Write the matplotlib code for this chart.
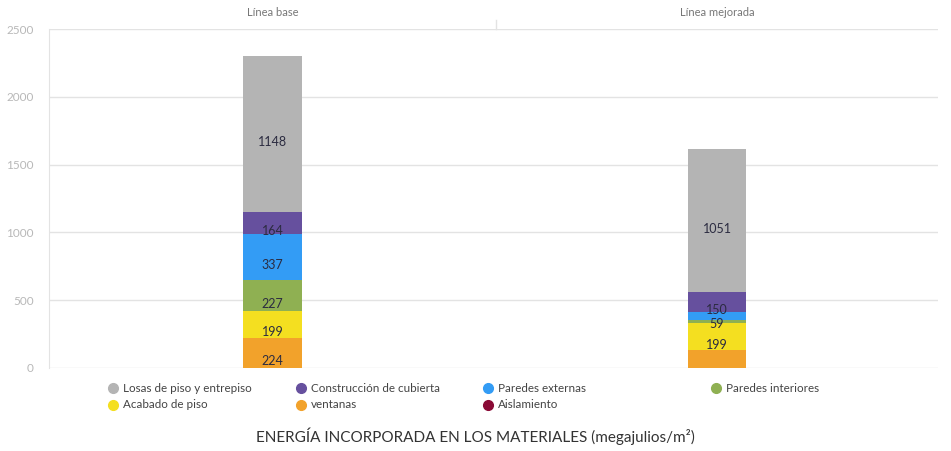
import matplotlib.pyplot as plt
from matplotlib.lines import Line2D

plt.rcParams['font.family'] = ['Lato', 'DejaVu Sans']

# data
escenarios = ['Línea base', 'Línea mejorada']
componentes = ['ventanas', 'Acabado de piso', 'Paredes interiores', 'Paredes externas',
               'Construcción de cubierta', 'Losas de piso y entrepiso', 'Aislamiento']
linea_base = [224, 199, 227, 337, 164, 1148, 0]
linea_mejorada = [130, 199, 25, 59, 150, 1051, 0]
colores = ['#f2a22b', '#f4df20', '#8fb052', '#339cf5', '#66509e', '#b4b4b4', '#8a0a36']
legend_orden = ['Losas de piso y entrepiso', 'Construcción de cubierta', 'Paredes externas',
                'Paredes interiores', 'Acabado de piso', 'ventanas', 'Aislamiento']
yticks = [0, 500, 1000, 1500, 2000, 2500]
# labels the reference leaves out
ocultos = {('Línea mejorada', 'ventanas'), ('Línea mejorada', 'Paredes interiores')}

W, H = 951, 451
fig = plt.figure(figsize=(W / 100, H / 100), dpi=100)
bottom, top = 1 - 368 / H, 1 - 29 / H
ax1 = fig.add_axes([49 / W, bottom, (496 - 49) / W, top - bottom])
ax2 = fig.add_axes([496 / W, bottom, (938 - 496) / W, top - bottom], sharey=ax1)

for ax, nombre, valores in [(ax1, escenarios[0], linea_base), (ax2, escenarios[1], linea_mejorada)]:
    base = 0
    for comp, val, col in zip(componentes, valores, colores):
        if val > 0:
            ax.bar(0, val, width=0.133, bottom=base, color=col, zorder=3)
            if (nombre, comp) not in ocultos:
                ax.annotate(str(val), (0, base + val / 2), xytext=(0, -6), textcoords='offset points',
                            ha='center', va='center', fontsize=9, color='#2b2b40', zorder=4)
        base += val
    ax.set_xlim(-0.5, 0.5)
    ax.set_ylim(0, 2500)
    ax.set_yticks(yticks)
    ax.set_xticks([])
    ax.grid(axis='y', color='#e3e3e3', linewidth=1, zorder=0)
    for s in ['top', 'right', 'bottom', 'left']:
        ax.spines[s].set_visible(False)
    ax.tick_params(axis='y', length=0, labelsize=8.5, labelcolor='#b8b8b8', pad=11)
    ax.set_title(nombre, fontsize=8, color='#777777', pad=9)

ax1.spines['left'].set_visible(True)
ax1.spines['left'].set_color('#e3e3e3')
ax2.tick_params(axis='y', labelleft=False)
# small divider between the two panels
fig.add_artist(Line2D([496 / W, 496 / W], [1 - 20 / H, 1 - 29 / H], color='#e3e3e3', linewidth=1))

# legend laid out by hand in two rows
col_x = [113, 301, 488, 716]
row_y = [388, 405]
for i, comp in enumerate(legend_orden):
    x = col_x[i % 4]
    y = row_y[i // 4]
    fig.add_artist(Line2D([x / W], [1 - y / H], marker='o', markersize=7, linestyle='none',
                          color=colores[componentes.index(comp)]))
    fig.text((x + 10) / W, 1 - y / H, comp, fontsize=8.4, color='#444444', va='center', ha='left')

fig.text(475 / W, 1 - 436 / H, 'ENERGÍA INCORPORADA EN LOS MATERIALES (megajulios/m²)',
         fontsize=11, color='#333333', ha='center', va='center')

fig.savefig('out.png', dpi=100)
